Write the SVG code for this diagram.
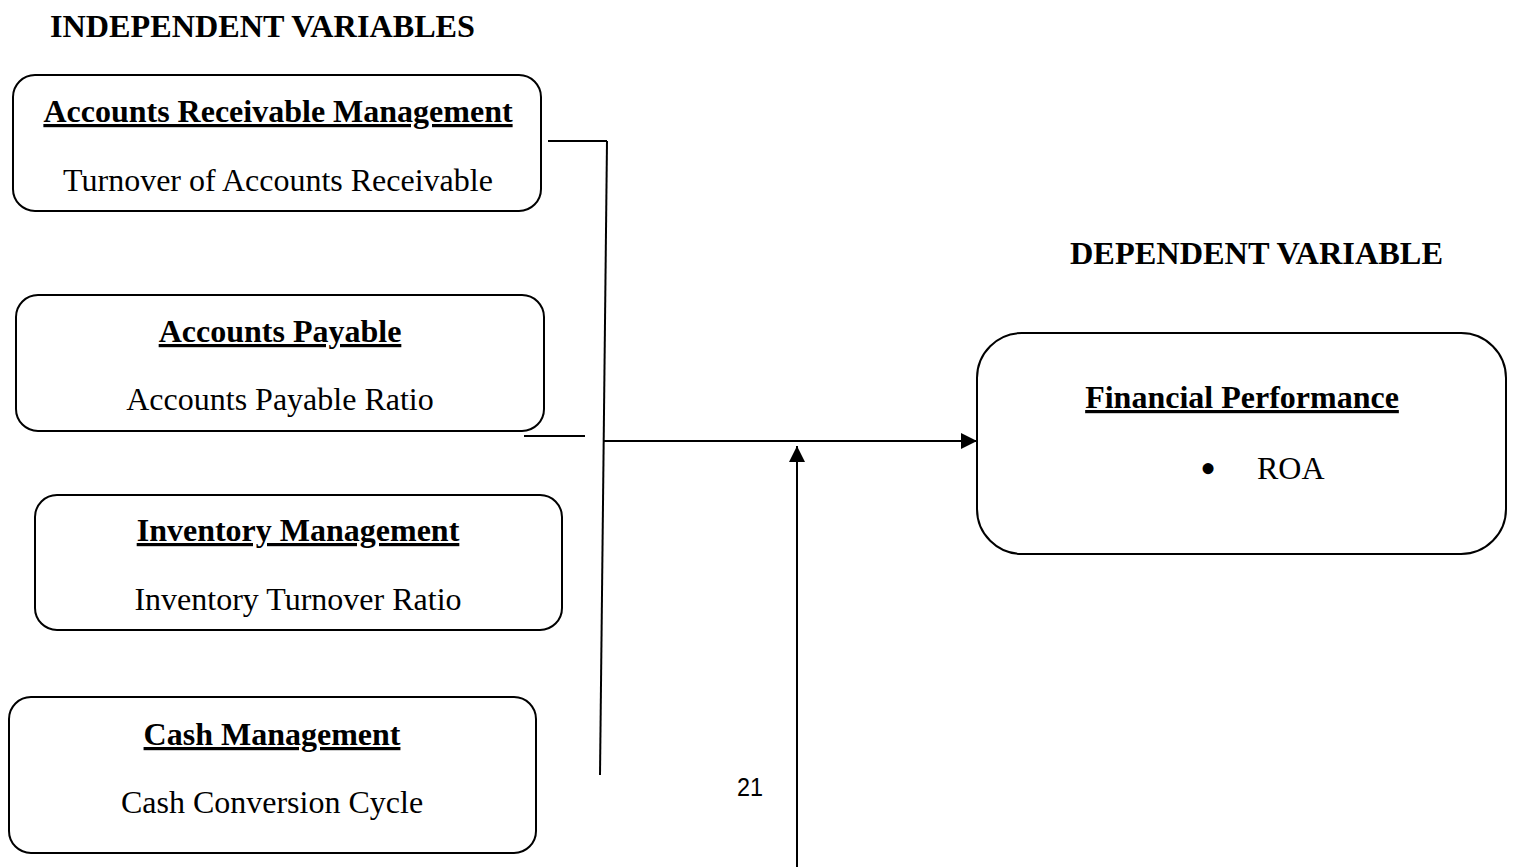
<svg xmlns="http://www.w3.org/2000/svg" width="1515" height="867" viewBox="0 0 1515 867">
  <style>
    .box { fill: #ffffff; stroke: #000000; stroke-width: 2; }
    .title { font-family: "Liberation Serif", "Times New Roman", serif; font-weight: bold; font-size: 32px; fill: #000; }
    .head { font-family: "Liberation Serif", "Times New Roman", serif; font-weight: bold; font-size: 32px; fill: #000; text-anchor: middle; text-decoration: underline; text-decoration-thickness: 3px; text-underline-offset: 5px; }
    .sub { font-family: "Liberation Serif", "Times New Roman", serif; font-size: 32px; fill: #000; text-anchor: middle; }
    .conn { stroke: #000000; stroke-width: 2; fill: none; }
    .pg { font-family: "Liberation Sans", Arial, sans-serif; font-size: 26px; fill: #000; }
  </style>
  <defs>
    <marker id="arrowBig" viewBox="0 0 16 16" refX="16" refY="8" markerWidth="16" markerHeight="16" markerUnits="userSpaceOnUse" orient="auto">
      <path d="M0,0 L16,8 L0,16 z" fill="#000"/>
    </marker>
  </defs>
  <rect width="1515" height="867" fill="#ffffff"/>

  <text class="title" x="50" y="37" textLength="425" lengthAdjust="spacingAndGlyphs">INDEPENDENT VARIABLES</text>
  <text class="title" x="1070" y="264" textLength="373" lengthAdjust="spacingAndGlyphs">DEPENDENT VARIABLE</text>

  <g id="node-ar">
    <rect class="box" x="13" y="75" width="528" height="136" rx="22"/>
    <text class="head" x="278" y="122">Accounts Receivable Management</text>
    <text class="sub" x="278" y="191">Turnover of Accounts Receivable</text>
  </g>
  <g id="node-ap">
    <rect class="box" x="16" y="295" width="528" height="136" rx="22"/>
    <text class="head" x="280" y="342">Accounts Payable</text>
    <text class="sub" x="280" y="410">Accounts Payable Ratio</text>
  </g>
  <g id="node-inv">
    <rect class="box" x="35" y="495" width="527" height="135" rx="22"/>
    <text class="head" x="298" y="541">Inventory Management</text>
    <text class="sub" x="298" y="610">Inventory Turnover Ratio</text>
  </g>
  <g id="node-cash">
    <rect class="box" x="9" y="697" width="527" height="156" rx="22"/>
    <text class="head" x="272" y="745">Cash Management</text>
    <text class="sub" x="272" y="813">Cash Conversion Cycle</text>
  </g>
  <g id="node-fp">
    <rect class="box" x="977" y="333" width="529" height="221" rx="45"/>
    <text class="head" x="1242" y="408">Financial Performance</text>
    <text class="sub" x="1208" y="484" style="font-size:46px">•</text>
    <text class="sub" x="1257" y="479" style="text-anchor:start">ROA</text>
  </g>

  <g id="connectors">
    <line class="conn" x1="548" y1="141" x2="607" y2="141"/>
    <line class="conn" x1="607" y1="141" x2="600" y2="775"/>
    <line class="conn" x1="524" y1="436" x2="585" y2="436"/>
    <line class="conn" x1="603" y1="441" x2="977" y2="441" marker-end="url(#arrowBig)"/>
    <line class="conn" x1="797" y1="867" x2="797" y2="446" marker-end="url(#arrowBig)"/>
  </g>

  <text class="pg" x="737" y="796" textLength="26" lengthAdjust="spacingAndGlyphs">21</text>
</svg>
